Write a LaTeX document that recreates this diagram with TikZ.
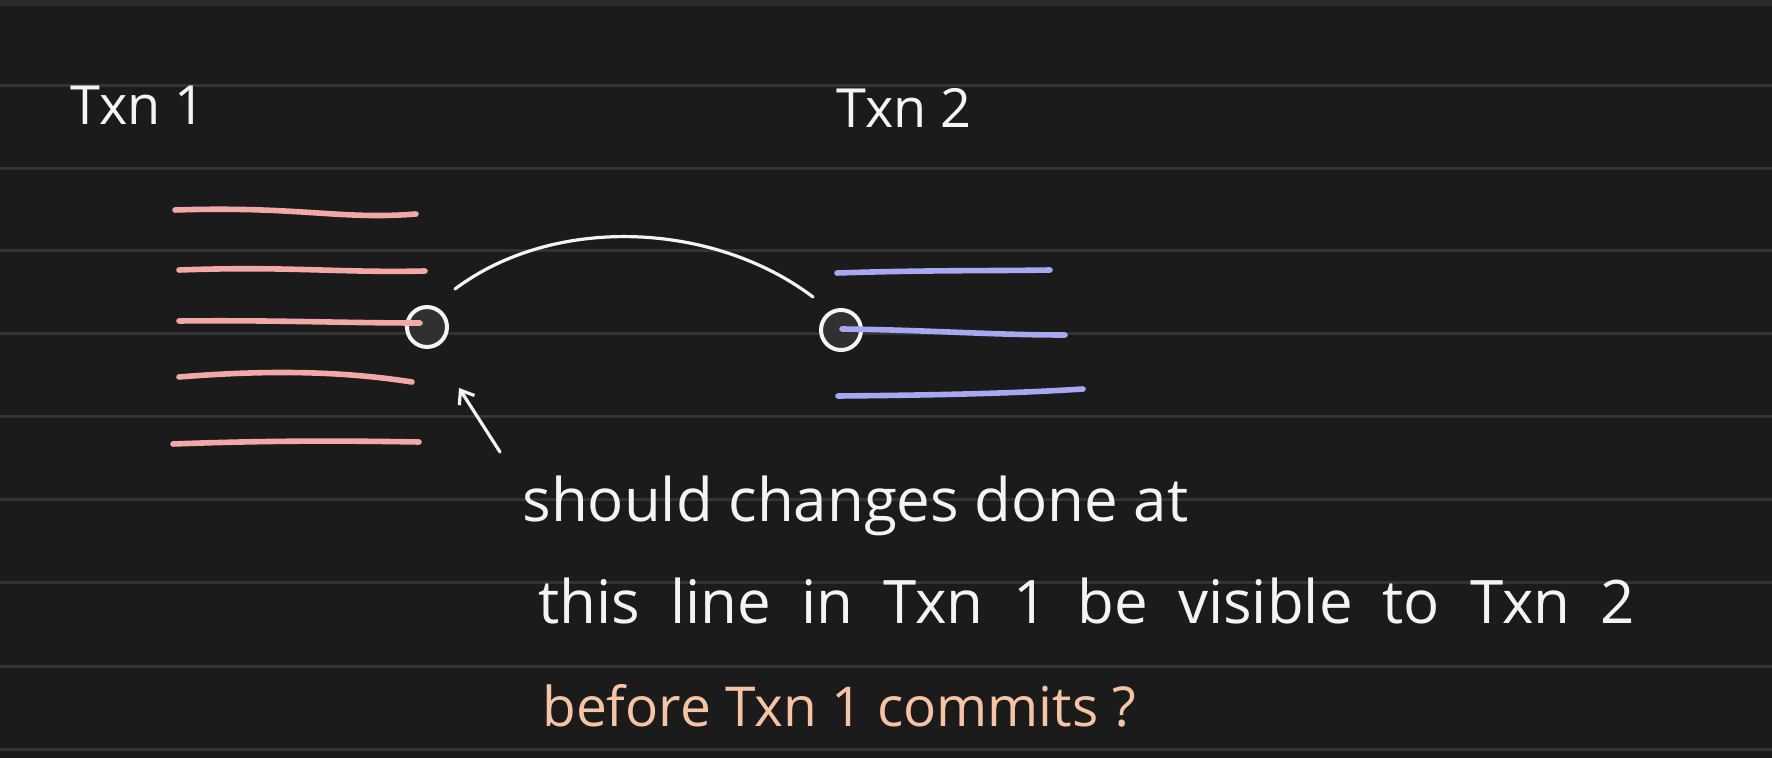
\documentclass[tikz,border=0pt]{standalone}
\usepackage{fontspec}
\setmainfont{Open Sans}
\usetikzlibrary{arrows.meta}
\definecolor{board}{HTML}{1B1B1B}
\definecolor{ruleg}{HTML}{333333}
\definecolor{topband}{HTML}{2A2A2A}
\definecolor{pinkln}{HTML}{F2A8A7}
\definecolor{blueln}{HTML}{A6A8F2}
\definecolor{chalk}{HTML}{F4F4F4}
\definecolor{peach}{HTML}{F6C4A4}
\definecolor{ptfill}{HTML}{303030}
\tikzset{
  rl/.style={draw=ruleg,line width=1.5pt},
  pk/.style={draw=pinkln,line width=2.8pt,line cap=round},
  bl/.style={draw=blueln,line width=2.8pt,line cap=round},
  pt/.style={circle,draw=chalk,fill=ptfill,line width=2pt,minimum size=20pt,inner sep=0pt},
  lnk/.style={draw=chalk,line width=1.6pt,line cap=round},
  ptr/.style={-{Straight Barb[length=6pt,width=9pt,line width=1.6pt]},draw=chalk,line width=1.6pt,line cap=round},
  hand/.style={font=\fontsize{30}{36}\selectfont,text=chalk,inner sep=0pt,anchor=base west},
  tl/.style={font=\fontsize{27}{32}\selectfont,text=chalk,inner sep=0pt,anchor=base west},
}

\begin{document}
\begin{tikzpicture}[x=0.5pt,y=-0.5pt]
% ============================= board
\fill[board] (0,0) rectangle (1772,758);
\useasboundingbox (0,0) rectangle (1772,758);
\fill[topband] (0,0) rectangle (1772,6);
\foreach \yy in {86,169,251,334,417,500,583,666,749}
  \draw[rl] (0,\yy) -- (1772,\yy);
% ============================= titles
\node[tl] (t1) at (70,125) {Txn 1};
\node[tl] (t2) at (836,128) {Txn 2};
% ============================= marked points
\node[pt] (c1) at (427,327) {};
\node[pt] (c2) at (841,330) {};
% ============================= Txn 1 lines
\draw[pk] (175,210) .. controls (300,206) and (340,220) .. (416,214);
\draw[pk] (179,270) .. controls (290,266) and (340,273) .. (425,271);
\draw[pk] (179,321) .. controls (280,320) and (340,323) .. (420,323);
\draw[pk] (179,377) .. controls (290,368) and (360,374) .. (412,382);
\draw[pk] (173,444) .. controls (280,440) and (360,441) .. (419,442);
% ============================= Txn 2 lines
\draw[bl] (837,273) .. controls (930,270) and (990,271) .. (1050,270);
\draw[bl] (842,329) .. controls (930,330) and (990,335) .. (1065,335);
\draw[bl] (838,396) .. controls (950,395) and (1020,393) .. (1083,389);
% ============================= link and pointer
\coordinate (arcL) at (455,289);
\coordinate (arcR) at (813,297);
\draw[lnk] (arcL) .. controls (555,214) and (714,222) .. (arcR);
\coordinate (ptrT) at (500,452);
\coordinate (ptrH) at (459,388);
\draw[ptr] (ptrT) -- (ptrH);
% ============================= question
\node[hand] (q1) at (522,522) {should changes done at};
\node[hand] (q2) at (538,624) {\spaceskip=15pt\relax this line in Txn 1 be visible to Txn 2};
\node[hand,text=peach,font=\fontsize{27.5}{33}\selectfont] (q3) at (542,726) {before Txn 1 commits ?};
\end{tikzpicture}
\end{document}
